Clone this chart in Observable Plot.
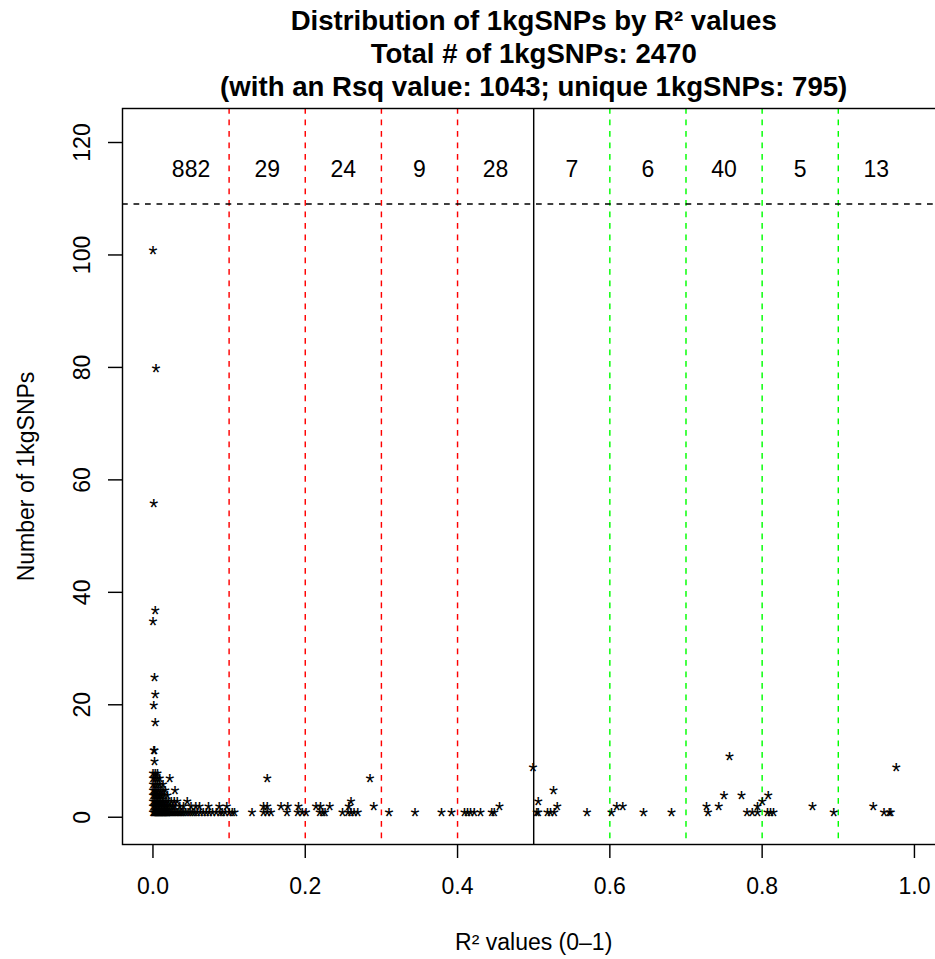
<!DOCTYPE html>
<html>
<head>
<meta charset="utf-8">
<script src="https://cdn.jsdelivr.net/npm/d3@7"></script>
<script src="https://cdn.jsdelivr.net/npm/@observablehq/plot@0.6"></script>
<style>
  html, body { margin: 0; padding: 0; background: #fff; overflow: hidden; }
  svg { display: block; }
</style>
</head>
<body>
<div id="chart"></div>
<script>
// ---- text ----
const titleLines = [
  "Distribution of 1kgSNPs by R\u00b2 values",
  "Total # of 1kgSNPs: 2470",
  "(with an Rsq value: 1043; unique 1kgSNPs: 795)"
];
const xTitle = "R\u00b2 values (0\u20131)";
const yTitle = "Number of 1kgSNPs";

// ---- axes ----
const xTicks = [0, 0.2, 0.4, 0.6, 0.8, 1.0];
const yTicks = [0, 20, 40, 60, 80, 100, 120];
const xDomain = [-0.04, 1.04];
const yDomain = [-4.848, 126.048];

// ---- cut lines & bin counts ----
const redCuts = [0.1, 0.2, 0.3, 0.4];
const blackCut = [0.5];
const greenCuts = [0.6, 0.7, 0.8, 0.9];
const countCutoff = 109.08;
const labelLevel = 115.14;
const binCenters = [0.05, 0.15, 0.25, 0.35, 0.45, 0.55, 0.65, 0.75, 0.85, 0.95];
const binCounts = [882, 29, 24, 9, 28, 7, 6, 40, 5, 13];

// ---- points: R2 values for each SNP count ----
const r2Count1 = [0, 0.001, 0.002, 0.003, 0.004, 0.005, 0.006, 0.007, 0.008, 0.009, 0.010, 0.011, 0.012, 0.013, 0.014, 0.015, 0.016, 0.017, 0.018, 0.019, 0.020, 0.022, 0.024, 0.026, 0.028, 0.030, 0.032, 0.034, 0.036, 0.038, 0.040, 0.043, 0.046, 0.049, 0.052, 0.055, 0.058, 0.062, 0.066, 0.070, 0.074, 0.078, 0.083, 0.088, 0.091, 0.095, 0.100, 0.104, 0.107, 0.130, 0.145, 0.150, 0.155, 0.176, 0.190, 0.196, 0.201, 0.219, 0.223, 0.226, 0.249, 0.256, 0.260, 0.264, 0.269, 0.310, 0.344, 0.379, 0.392, 0.409, 0.413, 0.417, 0.422, 0.430, 0.445, 0.448, 0.504, 0.506, 0.518, 0.522, 0.527, 0.570, 0.602, 0.644, 0.681, 0.729, 0.780, 0.787, 0.794, 0.807, 0.811, 0.815, 0.894, 0.960, 0.967, 0.969];
const r2Count2 = [0, 0.002, 0.004, 0.006, 0.008, 0.010, 0.012, 0.014, 0.016, 0.018, 0.020, 0.023, 0.026, 0.029, 0.035, 0.040, 0.050, 0.056, 0.061, 0.073, 0.087, 0.097, 0.145, 0.150, 0.168, 0.177, 0.191, 0.214, 0.220, 0.232, 0.257, 0.290, 0.455, 0.531, 0.609, 0.617, 0.727, 0.743, 0.794, 0.866, 0.946];
const r2Count3 = [0, 0.002, 0.004, 0.006, 0.008, 0.010, 0.012, 0.014, 0.017, 0.020, 0.024, 0.028, 0.032, 0.045, 0.260, 0.506, 0.800];
const r2Count4 = [0, 0.002, 0.004, 0.006, 0.008, 0.010, 0.012, 0.015, 0.019, 0.750, 0.773, 0.808];
const r2Count5 = [0, 0.002, 0.004, 0.007, 0.010, 0.013, 0.016, 0.029, 0.526];
const r2Count6 = [0, 0.003, 0.006, 0.009, 0.013];
const r2Count7 = [0, 0.003, 0.006, 0.009, 0.022, 0.150, 0.285];
const r2Count8 = [0, 0.003, 0.006];
const r2Count9 = [0.499, 0.976];
const r2Count10 = [0.002];
const r2Count11 = [0.757];
const r2Count12 = [0.001, 0.002];
const highCounts = [17, 20, 22, 25, 35, 37, 56, 80, 101];
const highR2 = [0.003, 0.001, 0.003, 0.002, 0.0, 0.003, 0.001, 0.004, 0.0];

const levelCounts = [1, 2, 3, 4, 5, 6, 7, 8, 9, 10, 11, 12];
const levelR2 = [r2Count1, r2Count2, r2Count3, r2Count4, r2Count5, r2Count6, r2Count7, r2Count8, r2Count9, r2Count10, r2Count11, r2Count12];

const points = [];
levelCounts.forEach((n, k) => levelR2[k].forEach(r => points.push({r2: r, n})));
highCounts.forEach((n, k) => points.push({r2: highR2[k], n}));

const bins = binCounts.map((c, i) => ({x: binCenters[i], label: String(c)}));

const FONT = "'Liberation Sans', Arial, Helvetica, sans-serif";
const LW = 1.44;
const DASH = "5.75,5.75";

const chart = Plot.plot({
  width: 935,
  height: 959,
  marginLeft: 122,
  marginRight: -9.4,
  marginTop: 108,
  marginBottom: 115,
  style: {fontFamily: FONT, fontSize: "23px", background: "#fff", color: "#000"},
  x: {domain: xDomain},
  y: {domain: yDomain},
  marks: [
    Plot.ruleX(redCuts, {stroke: "#ff0000", strokeWidth: LW, strokeDasharray: DASH}),
    Plot.ruleX(greenCuts, {stroke: "#00ff00", strokeWidth: LW, strokeDasharray: DASH}),
    Plot.ruleX(blackCut, {stroke: "#000", strokeWidth: LW}),
    Plot.ruleY([countCutoff], {stroke: "#000", strokeWidth: LW, strokeDasharray: DASH}),
    Plot.text(points, {x: "r2", y: "n", text: () => "*", fontSize: 23, dy: 6, fill: "#000"}),
    Plot.text(bins, {x: "x", y: () => labelLevel, text: "label", fontSize: 23, fill: "#000"}),
    Plot.frame({stroke: "#000", strokeWidth: LW}),
    Plot.axisX(xTicks, {tickSize: 14, tickPadding: 19, tickFormat: d3.format(".1f"), fontSize: 23, strokeWidth: LW, label: null}),
    Plot.axisY(yTicks, {tickSize: 14, tickPadding: 19, tickRotate: -90, tickFormat: d => String(d), fontSize: 23, strokeWidth: LW, label: null}),
    Plot.text([xTitle], {x: () => 0.5, frameAnchor: "bottom", lineAnchor: "bottom", dy: 105, fontSize: 23}),
    Plot.text([yTitle], {frameAnchor: "left", rotate: -90, lineAnchor: "bottom", textAnchor: "middle", dx: -88.3, fontSize: 23}),
    Plot.text([titleLines.join("\n")], {x: () => 0.5, frameAnchor: "top", lineAnchor: "bottom", lineHeight: 1.2, dy: -12.3, fontSize: 27.6, fontWeight: "bold"})
  ]
});
document.getElementById("chart").appendChild(chart);
</script>
</body>
</html>
